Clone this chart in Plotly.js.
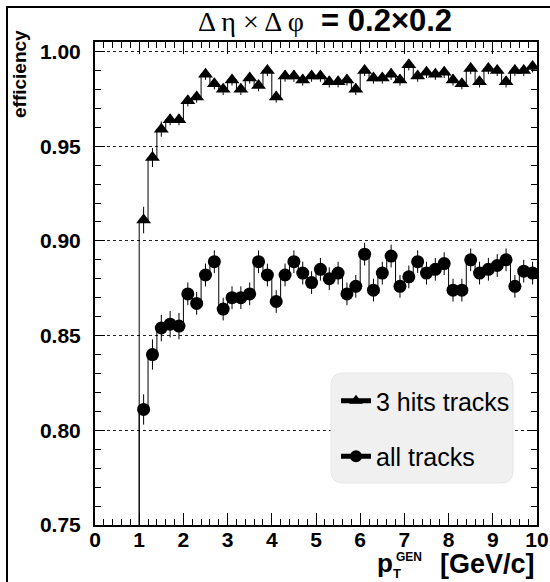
<!DOCTYPE html>
<html>
<head>
<meta charset="utf-8">
<script src="https://cdn.plot.ly/plotly-3.0.1.min.js"></script>
<style>
html,body{margin:0;padding:0;background:#fff;}
#chart{width:550px;height:582px;}
</style>
</head>
<body>
<div id="chart"></div>
<script>
// bin centres (bin width 0.2 GeV/c), first five bins are empty
var binCenters = [0.1,0.3,0.5,0.7,0.9,
  1.1,1.3,1.5,1.7,1.9,2.1,2.3,2.5,2.7,2.9,
  3.1,3.3,3.5,3.7,3.9,4.1,4.3,4.5,4.7,4.9,
  5.1,5.3,5.5,5.7,5.9,6.1,6.3,6.5,6.7,6.9,
  7.1,7.3,7.5,7.7,7.9,8.1,8.3,8.5,8.7,8.9,
  9.1,9.3,9.5,9.7,9.9];

var eff3hits = [0,0,0,0,0,
  0.911,0.944,0.959,0.964,0.964,0.974,0.976,0.988,0.983,0.980,
  0.985,0.980,0.986,0.982,0.990,0.976,0.987,0.987,0.985,0.987,
  0.987,0.984,0.984,0.985,0.980,0.990,0.986,0.986,0.988,0.985,
  0.993,0.987,0.989,0.988,0.989,0.985,0.983,0.991,0.984,0.991,
  0.990,0.984,0.990,0.990,0.992];
var err3hits = [0,0,0,0,0,
  0.007,0.005,0.004,0.003,0.003,0.003,0.003,0.003,0.003,0.003,
  0.003,0.003,0.003,0.003,0.003,0.003,0.003,0.003,0.003,0.003,
  0.003,0.003,0.003,0.003,0.003,0.003,0.003,0.003,0.003,0.003,
  0.003,0.003,0.003,0.003,0.003,0.003,0.003,0.003,0.003,0.003,
  0.003,0.003,0.003,0.003,0.003];

var effAll = [0,0,0,0,0,
  0.811,0.840,0.854,0.856,0.855,0.872,0.867,0.882,0.889,0.864,
  0.870,0.870,0.872,0.889,0.882,0.868,0.882,0.889,0.883,0.878,
  0.885,0.880,0.883,0.872,0.876,0.893,0.874,0.883,0.892,0.876,
  0.881,0.889,0.883,0.885,0.888,0.874,0.874,0.890,0.883,0.885,
  0.887,0.890,0.876,0.884,0.883];
var errAll = [0,0,0,0,0,
  0.008,0.008,0.007,0.007,0.007,0.006,0.006,0.006,0.006,0.006,
  0.006,0.006,0.006,0.006,0.006,0.006,0.006,0.006,0.006,0.006,
  0.006,0.006,0.006,0.006,0.006,0.006,0.006,0.006,0.006,0.006,
  0.006,0.006,0.006,0.006,0.006,0.006,0.006,0.006,0.006,0.006,
  0.006,0.006,0.006,0.006,0.006];

var seriesNames = ['3 hits tracks','all tracks'];
var yTickVals = [0.75,0.80,0.85,0.90,0.95,1.00];
var xTickVals = [0,1,2,3,4,5,6,7,8,9,10];

// pad one bin past the right edge so the step line reaches x = 10
function padded(arr, extra){ return arr.concat([extra]); }
var xs = padded(binCenters, 10.1);
function sizes(vals, s){ return vals.map(function(v){ return v > 0 ? s : 0; }).concat([0]); }

function trace(name, vals, errs, symbol, s, group){
  return {
    type:'scatter', mode:'lines+markers', name:name,
    legendgroup:group,
    x: xs, y: padded(vals, vals[vals.length-1]),
    line:{shape:'hvh', color:'#000', width:1},
    marker:{symbol:symbol, color:'#000', size:sizes(vals, s), opacity:1, line:{width:0, color:'#000'}},
    error_y:{type:'data', array:padded(errs,0), visible:true, color:'#000', thickness:1, width:0},
    cliponaxis:true
  };
}

var data = [
  trace(seriesNames[0], eff3hits, err3hits, 'triangle-up', 13, 'a'),
  trace(seriesNames[1], effAll, errAll, 'circle', 13, 'b')
];

var L=95, R=537, T=42, B=525;
function px(x){ return (x-L)/(R-L); }
function py(y){ return (B-y)/(B-T); }

var bx0=px(331), bx1=px(513), by0=py(483), by1=py(373);
var rx=12/(R-L), ry=12/(B-T);
var boxPath = 'M '+(bx0+rx)+','+by1+' L '+(bx1-rx)+','+by1+' Q '+bx1+','+by1+' '+bx1+','+(by1-ry)+
  ' L '+bx1+','+(by0+ry)+' Q '+bx1+','+by0+' '+(bx1-rx)+','+by0+
  ' L '+(bx0+rx)+','+by0+' Q '+bx0+','+by0+' '+bx0+','+(by0+ry)+
  ' L '+bx0+','+(by1-ry)+' Q '+bx0+','+by1+' '+(bx0+rx)+','+by1+' Z';

var SANS = 'Liberation Sans, Arial, sans-serif';
var boldFont = {family:SANS, size:21, color:'#000', weight:'bold'};

var layout = {
  width:550, height:582,
  margin:{l:L, r:550-R, t:T, b:582-B, pad:0},
  paper_bgcolor:'#fff', plot_bgcolor:'#fff',
  showlegend:true,
  title:{
    text:'<span style="font-family:Liberation Serif, serif;font-weight:normal;font-size:28px">Δ η × Δ φ</span>&nbsp;&nbsp;<b>=&nbsp;0.2×0.2</b>',
    font:{family:SANS, size:31, color:'#000'},
    x:px(325), xref:'paper', xanchor:'center',
    y:1-20/582, yref:'container', yanchor:'middle'
  },
  xaxis:{
    range:[0,10], tickvals:xTickVals, ticktext:xTickVals.map(String),
    ticks:'inside', ticklen:12, tickwidth:1, tickcolor:'#000',
    showline:true, linewidth:2, linecolor:'#000', mirror:'allticks',
    showgrid:false, zeroline:false,
    tickfont:boldFont, ticklabelstandoff:-5,
    minor:{dtick:0.2, tick0:0, ticks:'inside', ticklen:6, tickwidth:1, tickcolor:'#000', showgrid:false}
  },
  yaxis:{
    range:[0.75,1.005], tickvals:yTickVals, ticktext:yTickVals.map(function(v){return v.toFixed(2);}),
    ticks:'inside', ticklen:10, tickwidth:1, tickcolor:'#000',
    showline:true, linewidth:2, linecolor:'#000', mirror:'allticks',
    showgrid:true, gridcolor:'#222', griddash:'dot', gridwidth:1,
    zeroline:false,
    tickfont:boldFont, ticklabelstandoff:8,
    minor:{dtick:0.01, tick0:0.75, ticks:'inside', ticklen:6, tickwidth:1, tickcolor:'#000', showgrid:false}
  },
  legend:{
    x:px(336), xanchor:'left', y:py(378), yanchor:'top',
    bgcolor:'rgba(0,0,0,0)', borderwidth:0,
    font:{family:SANS, size:25, color:'#000'},
    traceorder:'grouped', tracegroupgap:20, itemsizing:'constant'
  },
  shapes:[
    {type:'path', xref:'paper', yref:'paper', path:boxPath, fillcolor:'#f0f0f0', line:{color:'#e6e6e6', width:1}, layer:'above'},
    {type:'rect', xref:'paper', yref:'paper', x0:px(7), x1:px(640), y0:py(660), y1:py(7), line:{color:'#000', width:2}, fillcolor:'rgba(0,0,0,0)', layer:'above'}
  ],
  annotations:[
    {text:'<b>efficiency</b>', textangle:-90, xref:'paper', yref:'paper', x:px(19), y:py(28), xanchor:'center', yanchor:'top', showarrow:false, font:{family:SANS, size:19, color:'#000'}},
    {text:'<b>p</b>', xref:'paper', yref:'paper', x:px(385), y:py(563), xanchor:'center', yanchor:'middle', showarrow:false, font:{family:SANS, size:26, color:'#000'}},
    {text:'<b>T</b>', xref:'paper', yref:'paper', x:px(397), y:py(573), xanchor:'center', yanchor:'middle', showarrow:false, font:{family:SANS, size:13, color:'#000'}},
    {text:'<b>GEN</b>', xref:'paper', yref:'paper', x:px(409), y:py(557), xanchor:'center', yanchor:'middle', showarrow:false, font:{family:SANS, size:12, color:'#000'}},
    {text:'<b>[GeV/c]</b>', xref:'paper', yref:'paper', x:px(537), y:py(564), xanchor:'right', yanchor:'middle', showarrow:false, font:{family:SANS, size:27, color:'#000'}}
  ]
};

Plotly.newPlot('chart', data, layout, {displayModeBar:false, staticPlot:true});
</script>
</body>
</html>
